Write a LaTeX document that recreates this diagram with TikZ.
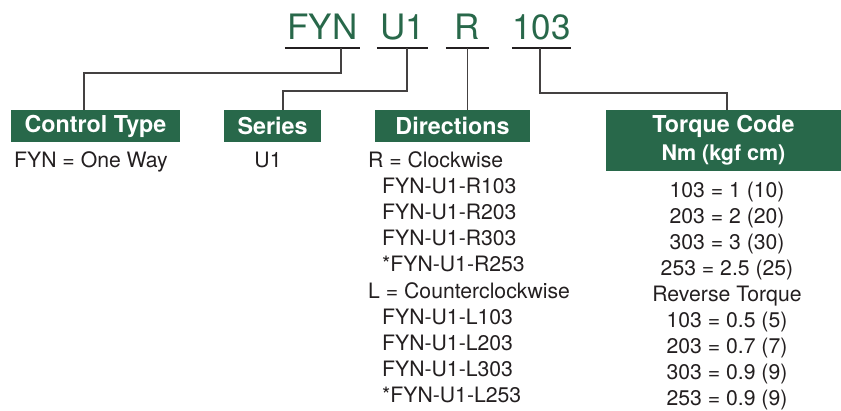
\documentclass[tikz,border=0pt]{standalone}
\usepackage{fontspec}
\setmainfont{TeX Gyre Heros}
\definecolor{codegreen}{RGB}{40,104,74}
\definecolor{inkgray}{RGB}{35,31,32}
\begin{document}
\begin{tikzpicture}[x=1pt, y=-1pt, line cap=butt, line join=miter,
    codepart/.style={text=codegreen, font=\fontsize{35}{40}\selectfont, text depth=0pt, inner xsep=0pt, inner ysep=8pt, anchor=south},
    headbox/.style={fill=codegreen, text=white, font=\bfseries\fontsize{23.3}{26}\selectfont, minimum height=32pt, inner sep=0pt},
    entry/.style={text=inkgray, font=\fontsize{21.2}{24}\selectfont, inner sep=0pt, anchor=base west},
    leader/.style={draw=inkgray!85, line width=1.1pt},
    underbar/.style={draw=inkgray, line width=2.4pt}]
  \useasboundingbox (0,0) rectangle (841,410);
  % part number, underlined
  \node[codepart, minimum width=75pt] (codefyn) at (322.5,48) {FYN};
  \node[codepart, minimum width=51pt] (codeser) at (402.5,48) {U1};
  \node[codepart, minimum width=43pt] (codedir) at (467.5,48) {R};
  \node[codepart, minimum width=59pt] (codetrq) at (541.5,48) {103};
  \draw[underbar] (codefyn.south west) -- (codefyn.south east);
  \draw[underbar] (codeser.south west) -- (codeser.south east);
  \draw[underbar] (codedir.south west) -- (codedir.south east);
  \draw[underbar] (codetrq.south west) -- (codetrq.south east);
  % green headings
  \node[headbox, minimum width=169pt] (ctrltype) at (95.5,126) {Control Type};
  \node[headbox, minimum width=97pt] (series) at (272.5,126) {Series};
  \node[headbox, minimum width=155pt] (directions) at (452.5,126) {Directions};
  \node[headbox, minimum width=235pt, minimum height=61pt, align=center] (torque) at (723.5,140.5)
    {Torque Code\\[2pt]{\fontsize{21.5}{24}\selectfont Nm (kgf cm)}};
  % leaders from the code to the headings
  \draw[leader] ([xshift=18.5pt]codefyn.south) -- ++(0,25) -| ([xshift=-11.5pt]ctrltype.north);
  \draw[leader] ([xshift=4.5pt]codeser.south) -- ++(0,43) -| ([xshift=10.5pt]series.north);
  \draw[leader] (codedir.south) -- (codedir.south |- directions.north);
  \draw[leader] ([xshift=-1.5pt]codetrq.south) -- ++(0,45) -| ([xshift=3.5pt]torque.north);
  % control type and series
  \node[entry] (oneway) at (14,167) {FYN = One Way};
  \node[entry, anchor=base] (servalue) at (268,167) {U1};
  % directions
  \node[entry] (cw) at (368,167) {R = Clockwise};
  \node[entry] (cwa) at (382,193.2) {FYN-U1-R103};
  \node[entry] (cwb) at (382,219.4) {FYN-U1-R203};
  \node[entry] (cwc) at (382,245.6) {FYN-U1-R303};
  \node[entry] (cwd) at (382,271.8) {*FYN-U1-R253};
  \node[entry] (ccw) at (368,298) {L = Counterclockwise};
  \node[entry] (ccwa) at (382,324.2) {FYN-U1-L103};
  \node[entry] (ccwb) at (382,350.4) {FYN-U1-L203};
  \node[entry] (ccwc) at (382,376.6) {FYN-U1-L303};
  \node[entry] (ccwd) at (382,402.8) {*FYN-U1-L253};
  % torque values
  \node[entry, anchor=base] (tqa) at (727,197) {103 = 1 (10)};
  \node[entry, anchor=base] (tqb) at (727,223.1) {203 = 2 (20)};
  \node[entry, anchor=base] (tqc) at (727,249.2) {303 = 3 (30)};
  \node[entry, anchor=base] (tqd) at (727,275.3) {253 = 2.5 (25)};
  \node[entry, anchor=base] (revtq) at (727,301.4) {Reverse Torque};
  \node[entry, anchor=base] (rva) at (727,327.5) {103 = 0.5 (5)};
  \node[entry, anchor=base] (rvb) at (727,353.6) {203 = 0.7 (7)};
  \node[entry, anchor=base] (rvc) at (727,379.7) {303 = 0.9 (9)};
  \node[entry, anchor=base] (rvd) at (727,405.8) {253 = 0.9 (9)};
\end{tikzpicture}
\end{document}
